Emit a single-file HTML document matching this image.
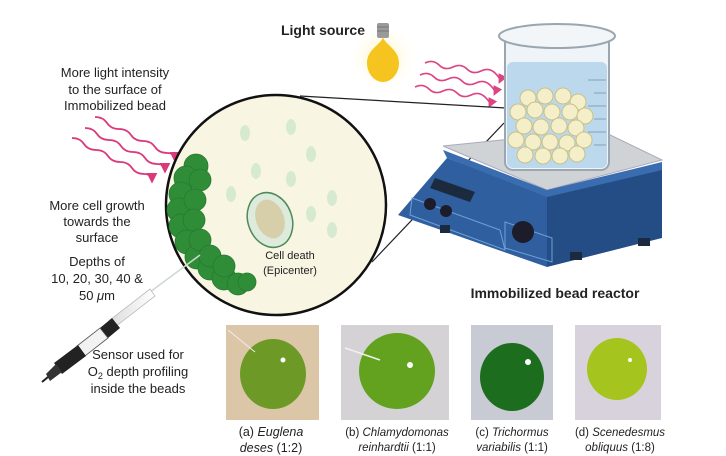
<!DOCTYPE html>
<html><head><meta charset="utf-8"><style>
html,body{margin:0;padding:0;background:#fff;width:726px;height:456px;overflow:hidden}
svg{display:block}
text{font-family:"Liberation Sans",sans-serif;fill:#222}
</style></head><body>
<svg width="726" height="456" viewBox="0 0 726 456" xmlns="http://www.w3.org/2000/svg">
<defs>
<radialGradient id="glow" cx="0.5" cy="0.5" r="0.5"><stop offset="0" stop-color="#fff3b0"/><stop offset="1" stop-color="#fff" stop-opacity="0"/></radialGradient>
<linearGradient id="probe" x1="0" y1="0" x2="1" y2="0"><stop offset="0" stop-color="#ddd"/><stop offset="1" stop-color="#fff"/></linearGradient>
<marker id="ah" markerWidth="6" markerHeight="6" refX="4" refY="3" orient="auto"><path d="M0,0 L6,3 L0,6 Z" fill="#d6246e"/></marker>
</defs>

<text x="365" y="35" font-size="14" font-weight="bold" text-anchor="end">Light source</text>
<g font-size="13" text-anchor="middle">
<text x="115" y="77">More light intensity</text>
<text x="115" y="94">to the surface of</text>
<text x="115" y="110">Immobilized bead</text>
<text x="97" y="210">More cell growth</text>
<text x="97" y="226">towards the</text>
<text x="97" y="242">surface</text>
<text x="97" y="266">Depths of</text>
<text x="97" y="283">10, 20, 30, 40 &amp;</text>
<text x="97" y="300">50 <tspan font-style="italic">μ</tspan>m</text>
<text x="138" y="359">Sensor used for</text>
<text x="138" y="376">O<tspan font-size="9" dy="3">2</tspan><tspan dy="-3"> depth profiling</tspan></text>
<text x="138" y="393">inside the beads</text>
</g>
<text x="555" y="298" font-size="14" font-weight="bold" text-anchor="middle">Immobilized bead reactor</text>

<g fill="none" stroke="#d6246e" stroke-width="1.8" marker-end="url(#ah)">
<path d="M95,117 q8,0 12,6 t12,6 t12,6 t12,6 t12,6 t12,6 t8,6" opacity="0.9"/>
<path d="M85,128 q8,0 12,6 t12,6 t12,6 t12,6 t12,6 t12,6 t8,6" opacity="0.9"/>
<path d="M72,138 q8,0 12,6 t12,6 t12,6 t12,6 t12,6 t12,6 t8,6" opacity="0.9"/>
</g>

<!-- bulb -->
<circle cx="383" cy="58" r="36" fill="url(#glow)"/>
<rect x="377" y="23" width="12" height="15" fill="#9a9a9a" rx="2"/>
<line x1="377" y1="27" x2="389" y2="27" stroke="#777"/><line x1="377" y1="31" x2="389" y2="31" stroke="#777"/>
<path d="M383,37 c-2,8 -16,12 -16,26 c0,11 8,19 16,19 c8,0 16,-8 16,-19 c0,-14 -14,-18 -16,-26z" fill="#f6c41f"/>

<g fill="none" stroke="#d6246e" stroke-width="1.6" marker-end="url(#ah)">
<path d="M425,63 q8,-4 14,2 t14,2 t14,2 t14,2 t14,2 t5,8" opacity="0.85"/>
<path d="M420,75 q8,-4 14,2 t14,2 t14,2 t14,2 t14,2 t5,8" opacity="0.85"/>
<path d="M415,87 q8,-4 14,2 t14,2 t14,2 t14,2 t14,2 t5,8" opacity="0.85"/>
</g>

<g stroke="#222" stroke-width="1.2">
<line x1="300" y1="96" x2="506" y2="108"/>
<line x1="372" y1="262" x2="504" y2="123"/>
</g>

<!-- stirrer -->
<polygon points="443,146 600,130 662,160 547,190" fill="#cfd3d6" stroke="#aab" stroke-width="1"/>
<polygon points="447,158 547,195 547,267 398,215" fill="#2f5f9e"/>
<polygon points="547,195 662,168 662,238 547,267" fill="#244d86"/>
<polygon points="443,150 547,190 662,162 662,170 547,197 447,158" fill="#3a6db0"/>
<polygon points="435,178 475,192 470,202 430,188" fill="#1b2a3e"/>
<polygon points="412,198 500,230 505,250 410,215" fill="none" stroke="#6fa0d8" stroke-width="1"/>
<circle cx="430" cy="204" r="6" fill="#1c1c2a"/>
<circle cx="446" cy="211" r="6" fill="#1c1c2a"/>
<polygon points="505,222 552,238 552,262 505,248" fill="none" stroke="#6fa0d8" stroke-width="1"/>
<circle cx="523" cy="232" r="11" fill="#1c1c2a"/>
<rect x="440" y="225" width="10" height="8" fill="#1c2a40"/>
<rect x="570" y="252" width="12" height="8" fill="#1c2a40"/>
<rect x="638" y="238" width="12" height="8" fill="#1c2a40"/>

<!-- beaker -->
<rect x="505" y="30" width="104" height="140" rx="8" fill="#eef4f8" stroke="#9aa7b0" stroke-width="2"/>
<rect x="507" y="62" width="100" height="106" rx="6" fill="#bcd8ec"/>
<ellipse cx="557" cy="36" rx="58" ry="12" fill="#f3f6f8" stroke="#9aa7b0" stroke-width="2"/>
<g stroke="#7f9fb8" stroke-width="1">
<line x1="588" y1="80" x2="606" y2="80"/><line x1="594" y1="93" x2="606" y2="93"/><line x1="588" y1="106" x2="606" y2="106"/><line x1="594" y1="119" x2="606" y2="119"/><line x1="588" y1="132" x2="606" y2="132"/><line x1="594" y1="145" x2="606" y2="145"/>
</g>
<g fill="#f4efc8" stroke="#c9c08a" stroke-width="1">
<circle cx="528" cy="98" r="8"/><circle cx="545" cy="96" r="8"/><circle cx="563" cy="96" r="8"/><circle cx="578" cy="102" r="8"/>
<circle cx="518" cy="112" r="8"/><circle cx="535" cy="110" r="8"/><circle cx="552" cy="112" r="8"/><circle cx="570" cy="112" r="8"/><circle cx="585" cy="116" r="8"/>
<circle cx="524" cy="126" r="8"/><circle cx="541" cy="127" r="8"/><circle cx="559" cy="126" r="8"/><circle cx="576" cy="128" r="8"/>
<circle cx="516" cy="140" r="8"/><circle cx="533" cy="142" r="8"/><circle cx="550" cy="142" r="8"/><circle cx="567" cy="143" r="8"/><circle cx="584" cy="140" r="8"/>
<circle cx="525" cy="155" r="8"/><circle cx="543" cy="156" r="8"/><circle cx="560" cy="156" r="8"/><circle cx="577" cy="154" r="8"/>
</g>

<circle cx="276" cy="205" r="110" fill="#f8f5e3" stroke="#111" stroke-width="2.5"/>
<g fill="#d6ead2">
<ellipse cx="245" cy="133" rx="5" ry="8"/><ellipse cx="291" cy="127" rx="5" ry="8"/><ellipse cx="311" cy="154" rx="5" ry="8"/>
<ellipse cx="256" cy="171" rx="5" ry="8"/><ellipse cx="291" cy="179" rx="5" ry="8"/><ellipse cx="231" cy="194" rx="5" ry="8"/>
<ellipse cx="332" cy="198" rx="5" ry="8"/><ellipse cx="311" cy="214" rx="5" ry="8"/><ellipse cx="332" cy="230" rx="5" ry="8"/>
</g>
<ellipse cx="270" cy="220" rx="22" ry="28" transform="rotate(-20 270 220)" fill="#dcebdc" stroke="#4f8a5a" stroke-width="1.5"/>
<ellipse cx="270" cy="219" rx="14" ry="20" transform="rotate(-20 270 219)" fill="#d6cfaa"/>
<text x="290" y="259" font-size="11" text-anchor="middle">Cell death</text>
<text x="290" y="274" font-size="11" text-anchor="middle">(Epicenter)</text>
<g fill="#2f8d38" stroke="#267a2e" stroke-width="0.8">
<circle cx="196" cy="166" r="12"/><circle cx="186" cy="178" r="12"/><circle cx="181" cy="194" r="12"/><circle cx="179" cy="210" r="12"/>
<circle cx="181" cy="226" r="12"/><circle cx="187" cy="242" r="12"/><circle cx="197" cy="257" r="12"/><circle cx="210" cy="268" r="12"/>
<circle cx="224" cy="278" r="12"/><circle cx="238" cy="284" r="11"/><circle cx="247" cy="282" r="9"/>
<circle cx="200" cy="180" r="11"/><circle cx="195" cy="200" r="11"/><circle cx="194" cy="220" r="11"/><circle cx="200" cy="240" r="11"/>
<circle cx="210" cy="256" r="11"/><circle cx="224" cy="266" r="11"/>
</g>

<line x1="200" y1="255" x2="150" y2="292" stroke="#cfd8cf" stroke-width="1.5"/>
<polygon points="150,289 155,296 115,327 110,320" fill="url(#probe)" stroke="#bbb" stroke-width="0.8"/>
<polygon points="112,318 120,328 108,338 100,328" fill="#222"/>
<polygon points="100,328 108,338 85,356 77,346" fill="#f2f2f2" stroke="#555" stroke-width="0.8"/>
<polygon points="78,345 86,356 62,374 54,363" fill="#222"/>
<polygon points="56,364 62,372 50,381 46,374" fill="#333"/>
<line x1="48" y1="377" x2="42" y2="382" stroke="#222" stroke-width="2"/>

<rect x="226" y="325" width="93" height="95" fill="#dcc6a8"/>
<ellipse cx="273" cy="374" rx="33" ry="35" fill="#6d9a26"/>
<circle cx="283" cy="360" r="2.5" fill="#fff"/>
<line x1="228" y1="330" x2="255" y2="352" stroke="#eee" stroke-width="1"/>
<rect x="341" y="325" width="108" height="95" fill="#d5d2d5"/>
<ellipse cx="397" cy="371" rx="38" ry="38" fill="#63a21f"/>
<circle cx="410" cy="365" r="3" fill="#fff"/>
<line x1="345" y1="348" x2="380" y2="360" stroke="#f0f0f0" stroke-width="1.5"/>
<rect x="471" y="325" width="82" height="95" fill="#c8cad4"/>
<ellipse cx="512" cy="377" rx="32" ry="34" fill="#1d6d1f"/>
<circle cx="528" cy="362" r="3" fill="#fff"/>
<rect x="575" y="325" width="86" height="95" fill="#d8d2dc"/>
<ellipse cx="617" cy="369" rx="30" ry="31" fill="#a6c41e"/>
<circle cx="630" cy="360" r="2" fill="#fff"/>
<g font-size="12.5" text-anchor="middle">
<text x="271" y="436">(a) <tspan font-style="italic">Euglena</tspan></text>
<text x="271" y="452"><tspan font-style="italic">deses</tspan> (1:2)</text>
<text x="397" y="436" font-size="11.5">(b) <tspan font-style="italic">Chlamydomonas</tspan></text>
<text x="397" y="451" font-size="11.5"><tspan font-style="italic">reinhardtii</tspan> (1:1)</text>
<text x="512" y="436" font-size="11.5">(c) <tspan font-style="italic">Trichormus</tspan></text>
<text x="512" y="451" font-size="11.5"><tspan font-style="italic">variabilis</tspan> (1:1)</text>
<text x="620" y="436" font-size="11.5">(d) <tspan font-style="italic">Scenedesmus</tspan></text>
<text x="620" y="451" font-size="11.5"><tspan font-style="italic">obliquus</tspan> (1:8)</text>
</g>
</svg>
</body></html>
